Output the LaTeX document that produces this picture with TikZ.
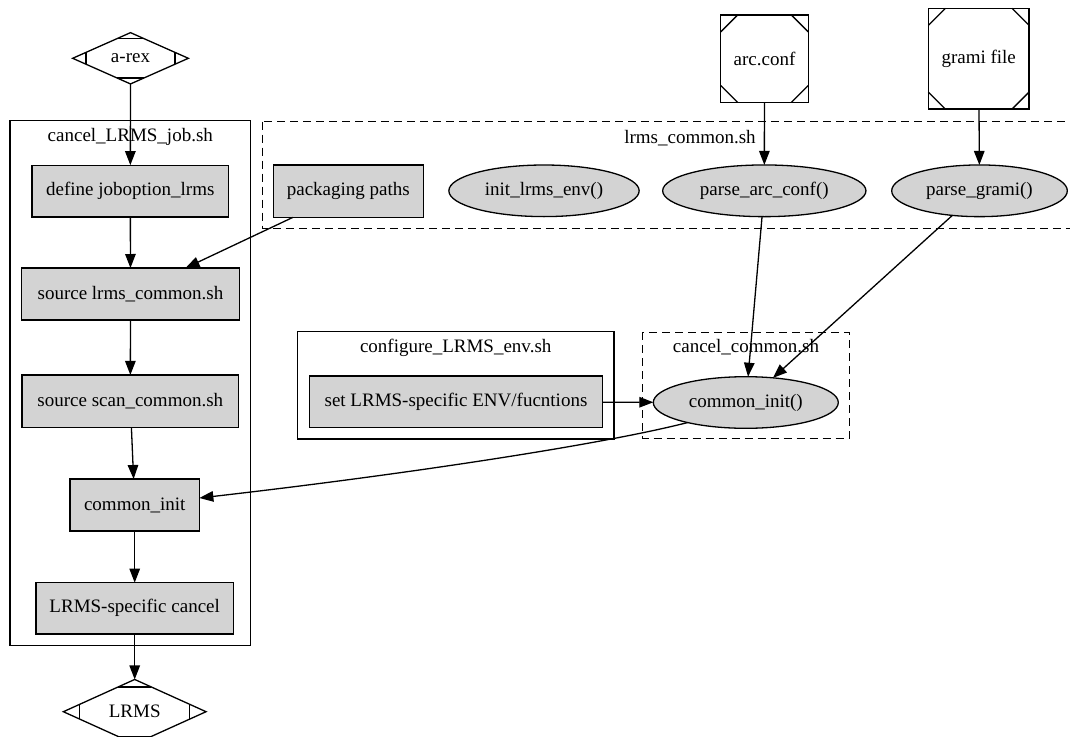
\documentclass[tikz,border=0pt]{standalone}
\usepackage{fontspec}
\setmainfont{Liberation Serif}
\usetikzlibrary{shapes.geometric,arrows.meta,calc}
\definecolor{lgray}{HTML}{D3D3D3}
\begin{document}
\begin{tikzpicture}[x=1pt,y=-1pt,
  gtext/.style={font=\fontsize{19}{23}\selectfont},
  gbox/.style={gtext, draw, fill=lgray, rectangle, inner sep=0pt, outer sep=0pt, line width=1.3pt},
  gell/.style={gtext, draw, fill=lgray, ellipse, inner sep=0pt, outer sep=0pt, line width=1.3pt},
  msq/.style={gtext, draw, rectangle, inner sep=0pt, outer sep=0pt, line width=1.3pt, minimum width=#1, minimum height=#1},
  mdia/.style={gtext, draw, diamond, inner sep=0pt, outer sep=0pt, line width=1.3pt},
  cut/.style={line width=1.3pt},
  edge/.style={line width=1.3pt, -{Triangle[length=14pt,width=10.5pt]}},
  clus/.style={draw, line width=1.3pt},
  dclus/.style={clus, dash pattern=on 8pt off 5pt},
  clab/.style={gtext, inner sep=0pt}
]
\useasboundingbox (0,0) rectangle (1070,736);
\clip (0,0) rectangle (1070,736);

% clusters
\draw[clus] (10,120.7) rectangle (250.7,645.7);
\node[clab] (labjob) at (130.3,136.5) {cancel\_LRMS\_job.sh};
\draw[dclus] (262.7,121.5) rectangle (1090,228.3);
\node[clab] (labcommon) at (690,138) {lrms\_common.sh};
\draw[clus] (297.3,331.7) rectangle (614,439);
\node[clab] (labconf) at (455.7,348) {configure\_LRMS\_env.sh};
\draw[dclus] (642.7,332.3) rectangle (849.3,438.3);
\node[clab] (labcancel) at (746,347.5) {cancel\_common.sh};

% nodes
\node[mdia, minimum width=115.7pt, minimum height=51.3pt] (arex) at (130.5,58.3) {a-rex};
\node[gbox, minimum width=196.7pt, minimum height=51.7pt] (define) at (130.3,191) {define joboption\_lrms};
\node[gbox, minimum width=217.6pt, minimum height=52pt] (srclrms) at (130.5,294) {source lrms\_common.sh};
\node[gbox, minimum width=216.7pt, minimum height=52.7pt] (srcscan) at (130.3,401.3) {source scan\_common.sh};
\node[gbox, minimum width=129.3pt, minimum height=52pt] (cinit) at (134.7,505) {common\_init};
\node[gbox, minimum width=197.3pt, minimum height=51.3pt] (lcancel) at (134.7,608.3) {LRMS-specific cancel};
\node[mdia, minimum width=142.7pt, minimum height=51.4pt] (lrms) at (134.7,711.7) {LRMS};

\node[gbox, minimum width=150pt, minimum height=52.3pt] (pkg) at (348.3,191.2) {packaging paths};
\node[gell, minimum width=190.3pt, minimum height=51.6pt] (initenv) at (544,190.8) {init\_lrms\_env()};
\node[gell, minimum width=203.3pt, minimum height=51.7pt] (parc) at (764.3,190.8) {parse\_arc\_conf()};
\node[gell, minimum width=175.6pt, minimum height=51.7pt] (pgrami) at (979.5,190.8) {parse\_grami()};
\node[msq=87.6pt] (arcconf) at (764.5,58.7) {arc.conf};
\node[msq=100.7pt] (grami) at (978.7,58.7) {grami file};

\node[gbox, minimum width=293.4pt, minimum height=51.7pt] (setenv) at (456,401.8) {set LRMS-specific ENV/fucntions};
\node[gell, minimum width=185pt, minimum height=51.6pt] (ciell) at (745.8,402.5) {common\_init()};

% Msquare corner cuts
\foreach \n in {arcconf,grami}{
  \draw[cut] ($(\n.north west)+(0,17)$) -- ($(\n.north west)+(17,0)$);
  \draw[cut] ($(\n.north east)+(0,17)$) -- ($(\n.north east)+(-17,0)$);
  \draw[cut] ($(\n.south west)+(0,-17)$) -- ($(\n.south west)+(17,0)$);
  \draw[cut] ($(\n.south east)+(0,-17)$) -- ($(\n.south east)+(-17,0)$);
}
% Mdiamond corner cuts
\foreach \n in {arex,lrms}{
  \draw[cut] ($(\n.north)!0.23!(\n.west)$) -- ($(\n.north)!0.23!(\n.east)$);
  \draw[cut] ($(\n.south)!0.23!(\n.west)$) -- ($(\n.south)!0.23!(\n.east)$);
  \draw[cut] ($(\n.west)!0.23!(\n.north)$) -- ($(\n.west)!0.23!(\n.south)$);
  \draw[cut] ($(\n.east)!0.23!(\n.north)$) -- ($(\n.east)!0.23!(\n.south)$);
}

% edges
\draw[edge] (arex) -- (define);
\draw[edge] (define) -- (srclrms);
\draw[edge] (pkg) -- (srclrms);
\draw[edge] (srclrms) -- (srcscan);
\draw[edge] (srcscan) -- (cinit);
\draw[edge] (cinit) -- (lcancel);
\draw[edge] (lcancel) -- (lrms);
\draw[edge] (arcconf) -- (parc);
\draw[edge] (grami) -- (pgrami);
\draw[edge] (parc) -- (ciell);
\draw[edge] (pgrami) -- (ciell);
\draw[edge] (setenv) -- (ciell);
\draw[edge] (ciell.199) .. controls (600,445) and (400,475) .. ($(cinit.east)+(0,-7)$);
\end{tikzpicture}
\end{document}
